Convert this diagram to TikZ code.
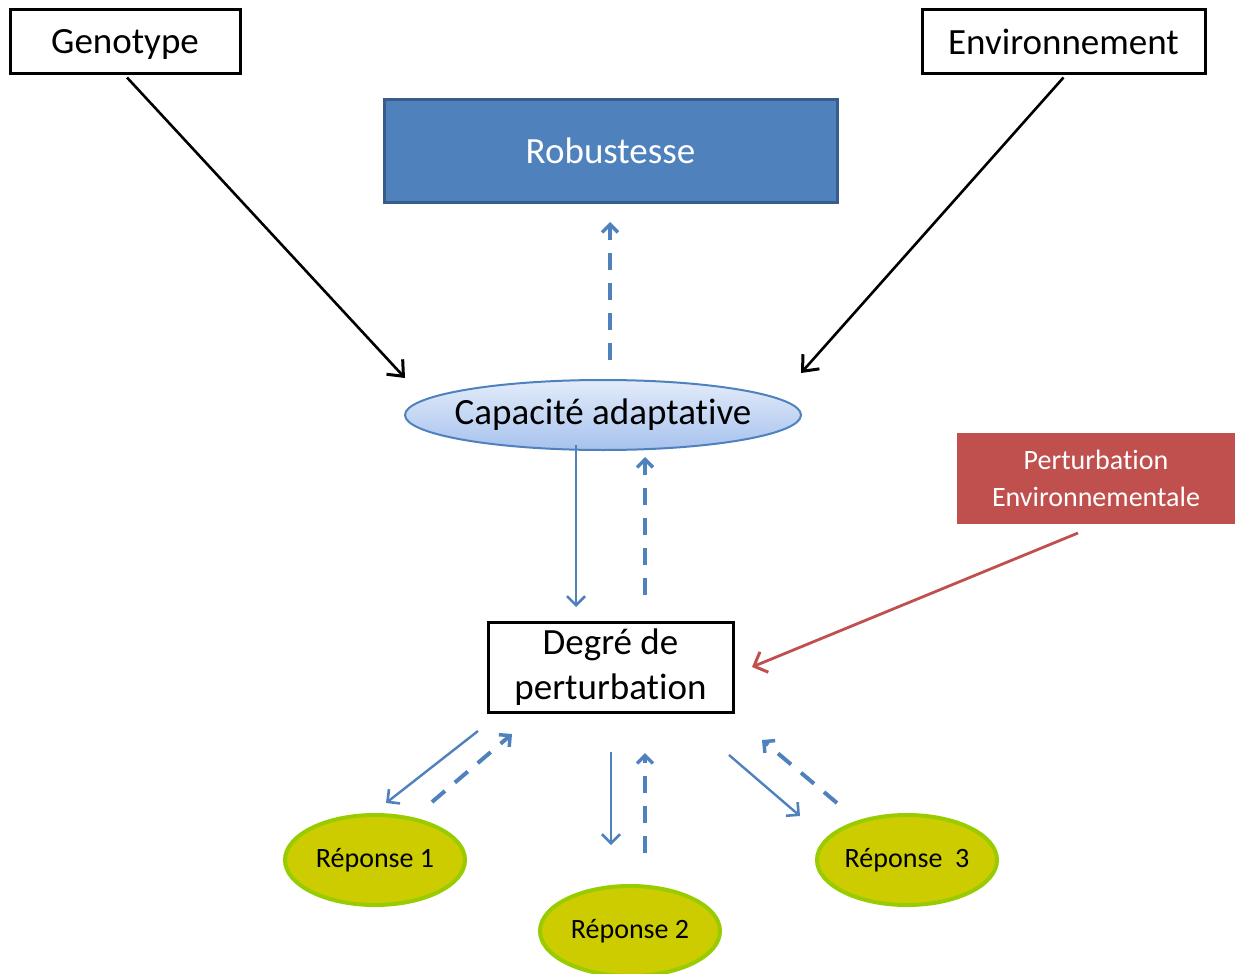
\documentclass[tikz,border=0pt]{standalone}
\usepackage{fontspec}
\setmainfont[Ligatures=NoCommon]{Carlito}
\usetikzlibrary{shapes.geometric,arrows.meta}
\definecolor{blu}{HTML}{4F81BD}
\definecolor{bluedge}{HTML}{385D8A}
\definecolor{redbox}{HTML}{C0504D}
\definecolor{olive}{HTML}{CCCC00}
\definecolor{lime}{HTML}{99CC00}
\definecolor{ltop}{HTML}{E3ECFA}
\definecolor{lbot}{HTML}{A7C2EE}
\tikzset{
  whitebox/.style={draw=black, line width=3pt, fill=white, inner sep=0pt, font=\fontsize{37}{45}\selectfont, align=center},
  blackarr/.style={draw=black, line width=2.6pt, -{Straight Barb[length=13pt,width=22pt,line width=3pt]}},
  bluesolid/.style={draw=blu, line width=2.4pt, -{Straight Barb[length=9pt,width=18pt,line width=2.6pt]}},
  bluedash/.style={draw=blu, line width=4pt, dash pattern=on 17pt off 13pt, -{Straight Barb[length=8pt,width=16pt,line width=3.5pt]}},
  redarr/.style={draw=redbox, line width=2.8pt, -{Straight Barb[length=11pt,width=22pt,line width=3pt]}},
  repo/.style={ellipse, draw=lime, line width=4pt, fill=olive, minimum width=180pt, minimum height=90pt, inner sep=0pt, font=\fontsize{28}{32}\selectfont},
}
\begin{document}
\begin{tikzpicture}[x=1pt,y=-1pt]
\useasboundingbox (0,0) rectangle (1235,974);
% nodes
\node[whitebox, minimum width=230pt, minimum height=64pt, text depth=1pt] (geno) at (125,42) {Genotype};
\node[whitebox, minimum width=283pt, minimum height=64pt, text depth=1pt] (env) at (1063.5,42) {Environnement};
\node[draw=bluedge, line width=3pt, fill=blu, minimum width=453pt, minimum height=102pt, inner sep=0pt, text=white, text depth=0pt, font=\fontsize{37}{45}\selectfont] (rob) at (610.5,151) {Robustesse};
\node[ellipse, draw=blu, line width=2pt, top color=ltop, bottom color=lbot, minimum width=396pt, minimum height=70pt, inner sep=0pt, font=\fontsize{37}{45}\selectfont] (cap) at (603,415) {\makebox[0pt]{Capacité adaptative}};
\node[fill=redbox, minimum width=278pt, minimum height=91pt, inner sep=0pt, text=white, align=center, font=\fontsize{28}{37}\selectfont] (pert) at (1096,478.5) {Perturbation\\Environnementale};
\node[whitebox, minimum width=245pt, minimum height=90pt] (deg) at (610.5,667) {Degré de\\perturbation};
\node[repo] (r1) at (375,860) {Réponse~1};
\node[repo] (r2) at (630,931) {Réponse~2};
\node[repo] (r3) at (907,860) {Réponse~~3};
% end points
\coordinate (g1) at (405,378);
\coordinate (e1) at (801,373);
\coordinate (rb0) at (610,360);
\coordinate (rb1) at (610,222);
\coordinate (cd0) at (576,445);
\coordinate (cd1) at (576,607);
\coordinate (dc0) at (645,595);
\coordinate (dc1) at (645,457);
\coordinate (p0) at (1078,533);
\coordinate (p1) at (752,667);
\coordinate (a0) at (478,731);
\coordinate (a1) at (386,803);
\coordinate (b0) at (432,802);
\coordinate (b1) at (512,734);
\coordinate (c0) at (611,752);
\coordinate (c1) at (611,845);
\coordinate (d0) at (645,853);
\coordinate (d1) at (645,753);
\coordinate (f0) at (729,755);
\coordinate (f1) at (800,816);
\coordinate (h0) at (837,803);
\coordinate (h1) at (762,740);
% connectors
\draw[blackarr] (geno.south) ++(2,2) -- (g1);
\draw[blackarr] (env.south) ++(0,2) -- (e1);
\draw[bluedash] (rb0) -- (rb1);
\draw[bluesolid] (cd0) -- (cd1);
\draw[bluedash] (dc0) -- (dc1);
\draw[redarr] (p0) -- (p1);
\draw[bluesolid] (a0) -- (a1);
\draw[bluedash] (b0) -- (b1);
\draw[bluesolid] (c0) -- (c1);
\draw[bluedash] (d0) -- (d1);
\draw[bluesolid] (f0) -- (f1);
\draw[bluedash] (h0) -- (h1);
\end{tikzpicture}
\end{document}
